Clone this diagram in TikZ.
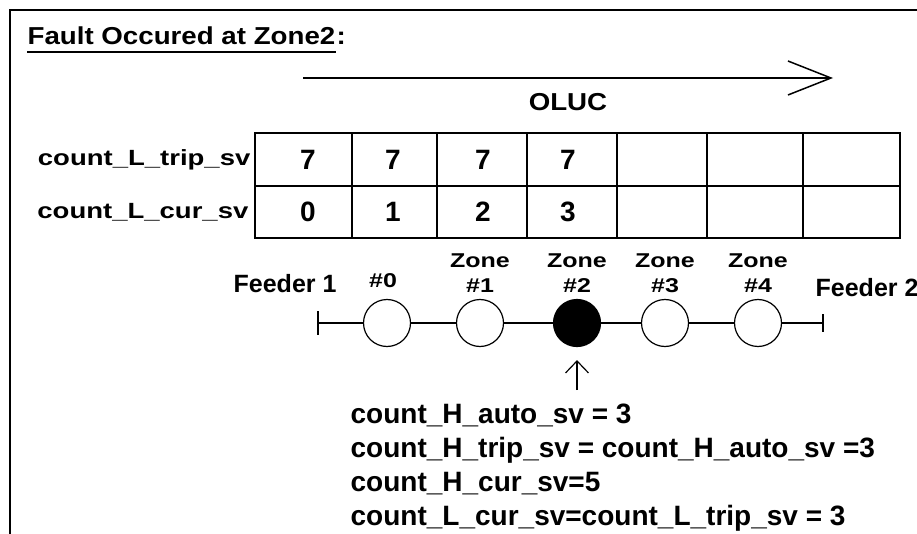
\documentclass[tikz,border=0pt]{standalone}
\usepackage{fontspec}
\setmainfont{Liberation Sans}
\newfontfamily\rowfont[FakeStretch=1.25]{Liberation Sans}
\newfontfamily\headfont[FakeStretch=1.13]{Liberation Sans}
\usetikzlibrary{arrows.meta, positioning, calc}
\tikzset{zone/.style={circle,draw,line width=1.2pt,fill=white,minimum size=47pt,inner sep=0pt}}
\tikzset{faulted/.style={zone,fill=black}}
\tikzset{headtxt/.style={font=\headfont\bfseries\fontsize{24.5}{28}\selectfont,inner sep=0pt}}
\tikzset{rowlbl/.style={font=\rowfont\bfseries\fontsize{22}{25}\selectfont,inner sep=0pt,anchor=east}}
\tikzset{zonelbl/.style={font=\rowfont\bfseries\fontsize{20}{25}\selectfont,inner sep=0pt,align=center}}
\tikzset{celltxt/.style={font=\bfseries\fontsize{28}{34}\selectfont,inner sep=0pt}}
\tikzset{feedlbl/.style={font=\bfseries\fontsize{25}{30}\selectfont,inner sep=0pt,anchor=base west}}
\tikzset{infotxt/.style={font=\bfseries\fontsize{28}{34}\selectfont,inner sep=0pt,align=left,anchor=north west}}

\begin{document}
\begin{tikzpicture}[x=1pt,y=-1pt,line width=1.3pt] % pixel coordinates, y grows downwards
  \useasboundingbox (0,0) rectangle (917,534);
  \draw[line width=1.6pt] (10,534) -- (10,10) -- (917,10); % frame, open at right and bottom

  % title
  \node[headtxt, anchor=base west] (title) at (27,45) {Fault Occured at Zone2};
  \node[headtxt, anchor=base west] (colon) at (title.base east) {:};
  \draw[line width=1.5pt] ([yshift=-7pt]title.base west) -- ([yshift=-7pt]title.base east);

  % direction of OLUC
  \coordinate (olucA) at (303,78);
  \coordinate (olucB) at (833,78);
  \draw[line width=1.5pt, -{Straight Barb[length=43pt,width=34pt]}] (olucA) -- (olucB)
    node[headtxt, midway, anchor=north, yshift=-15pt] (oluc) {OLUC};

  % table
  \draw (255,133) rectangle (900,238);
  \draw (255,186) -- (900,186);
  \foreach \x in {352,437,527,617,707,803} \draw (\x,133) -- (\x,238);
  \node[rowlbl] (trip) at (251,160) {count\_L\_trip\_sv};
  \node[rowlbl] (cur) at (249,212) {count\_L\_cur\_sv};
  \foreach \x/\v [count=\i] in {308/7,393/7,483/7,568/7} \node[celltxt] (t\i) at (\x,160) {\v};
  \foreach \x/\v [count=\i] in {308/0,393/1,483/2,568/3} \node[celltxt] (c\i) at (\x,212) {\v};

  % feeder with zones
  \coordinate (f1) at (318,323);
  \coordinate (f2) at (823,323);
  \node[zone] (z0) at (387,323) {};
  \node[zone] (z1) at (480,323) {};
  \node[faulted] (z2) at (577,323) {};
  \node[zone] (z3) at (665,323) {};
  \node[zone] (z4) at (758,323) {};
  \draw (f1) -- (z0) -- (z1) -- (z2) -- (z3) -- (z4) -- (f2);
  \draw ([yshift=12pt]f1) -- ([yshift=-12pt]f1);
  \draw ([yshift=9pt]f2) -- ([yshift=-9pt]f2);

  \node[zonelbl, above=11pt of z0, xshift=-4pt] (l0) {\#0};
  \node[zonelbl, above=6pt of z1] (l1) {Zone\\\#1};
  \node[zonelbl, above=6pt of z2] (l2) {Zone\\\#2};
  \node[zonelbl, above=6pt of z3] (l3) {Zone\\\#3};
  \node[zonelbl, above=6pt of z4] (l4) {Zone\\\#4};
  \node[feedlbl] (feed1) at (233,293) {Feeder 1};
  \node[feedlbl] (feed2) at (815,297) {Feeder 2};

  % fault location
  \coordinate (hit) at (577,390);
  \draw[line width=1.2pt, shorten >=13pt, -{Straight Barb[length=12pt,width=23pt]}] (hit) -- (z2);
  \node[infotxt] (info) at (350,403) {count\_H\_auto\_sv = 3\\
    count\_H\_trip\_sv = count\_H\_auto\_sv =3\\
    count\_H\_cur\_sv=5\\
    count\_L\_cur\_sv=count\_L\_trip\_sv = 3};
\end{tikzpicture}
\end{document}
